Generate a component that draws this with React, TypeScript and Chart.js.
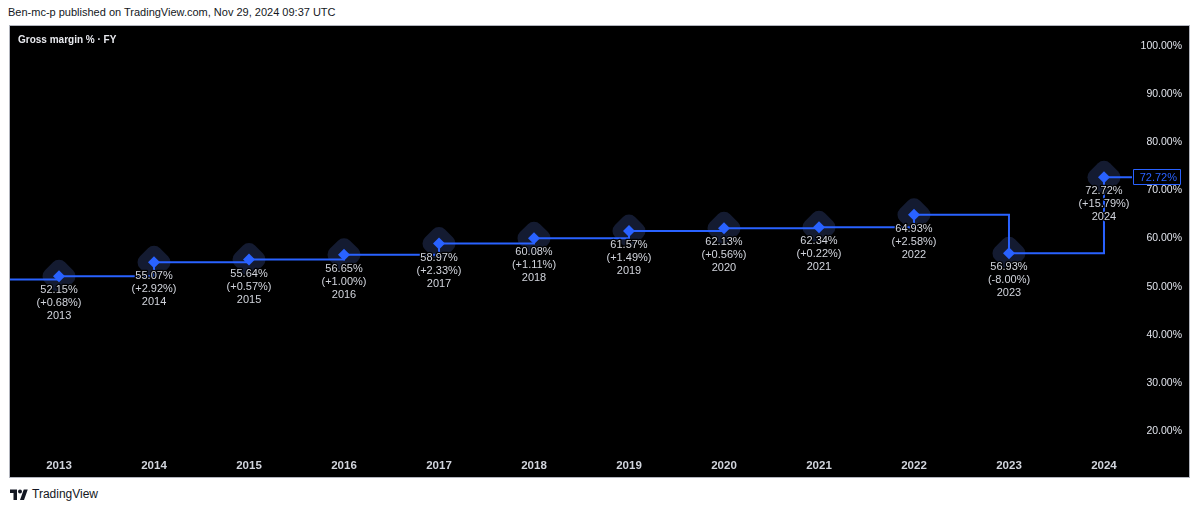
import React, { useEffect, useRef } from 'react';
import { Chart, registerables } from 'chart.js';

Chart.register(...registerables);

const years = [2013, 2014, 2015, 2016, 2017, 2018, 2019, 2020, 2021, 2022, 2023, 2024];
const margins = [52.15, 55.07, 55.64, 56.65, 58.97, 60.08, 61.57, 62.13, 62.34, 64.93, 56.93, 72.72];
const changes = [0.68, 2.92, 0.57, 1.0, 2.33, 1.11, 1.49, 0.56, 0.22, 2.58, -8.0, 15.79];
const priorYear = 2012;
const priorMargin = 51.47;
const yTicks = [20, 30, 40, 50, 60, 70, 80, 90, 100];

const FONT = '"Liberation Sans", Arial, sans-serif';
const BLUE = '#2962ff';
const TEXT = '#d1d4dc';

const labelPlugin = {
  id: 'pointLabels',
  afterDatasetsDraw(chart: any) {
    const { ctx, scales, chartArea } = chart;
    const x = scales.x;
    const y = scales.y;
    ctx.save();
    ctx.font = `11px ${FONT}`;
    ctx.textAlign = 'center';
    ctx.textBaseline = 'middle';
    ctx.lineJoin = 'round';
    years.forEach((yr, i) => {
      const px = x.getPixelForValue(yr);
      const py = y.getPixelForValue(margins[i]);
      const c = changes[i];
      const lines = [
        `${margins[i].toFixed(2)}%`,
        `(${c >= 0 ? '+' : ''}${c.toFixed(2)}%)`,
        String(yr),
      ];
      lines.forEach((t, k) => {
        const ty = py + 14 + k * 13;
        ctx.strokeStyle = '#000';
        ctx.lineWidth = 2.5;
        ctx.strokeText(t, px, ty);
        ctx.fillStyle = TEXT;
        ctx.fillText(t, px, ty);
      });
    });
    const last = margins[margins.length - 1];
    const ly = Math.round(y.getPixelForValue(last));
    const bx = Math.round(chartArea.right) + 1;
    const bw = 48;
    const bh = 16;
    ctx.fillStyle = '#000';
    ctx.fillRect(bx, ly - bh / 2, bw, bh);
    ctx.strokeStyle = BLUE;
    ctx.lineWidth = 1;
    ctx.strokeRect(bx + 0.5, ly - bh / 2 + 0.5, bw - 1, bh - 1);
    ctx.fillStyle = BLUE;
    ctx.textAlign = 'right';
    ctx.font = `11px ${FONT}`;
    ctx.fillText(`${last.toFixed(2)}%`, bx + bw - 4, ly + 0.5);
    ctx.restore();
  },
};

const zeroPad = (s: any) => {
  s.paddingLeft = 0;
  s.paddingRight = 0;
  s.paddingTop = 0;
  s.paddingBottom = 0;
};

function ChartPanel() {
  const ref = useRef<HTMLCanvasElement | null>(null);
  useEffect(() => {
    if (!ref.current) return;
    const pts = years.map((yr, i) => ({ x: yr, y: margins[i] }));
    const linePts = [{ x: priorYear, y: priorMargin }, ...pts, { x: years[years.length - 1] + 1, y: margins[margins.length - 1] }];
    const chart = new Chart(ref.current, {
      type: 'line',
      data: {
        datasets: [
          {
            data: pts,
            showLine: false,
            pointStyle: 'rectRounded',
            pointRotation: 45,
            pointRadius: 16.5,
            pointBackgroundColor: '#141b31',
            pointBorderWidth: 0,
            order: 3,
          } as any,
          {
            data: linePts,
            stepped: 'before',
            borderColor: BLUE,
            borderWidth: 2,
            pointRadius: 0,
            fill: false,
            order: 2,
          } as any,
          {
            data: pts,
            showLine: false,
            pointStyle: 'rectRot',
            pointRadius: 6,
            pointBackgroundColor: BLUE,
            pointBorderWidth: 0,
            order: 1,
          } as any,
        ],
      },
      options: {
        responsive: false,
        animation: false,
        events: [],
        layout: { padding: { left: 0, top: 0, bottom: 0, right: 7 }, autoPadding: false },
        plugins: { legend: { display: false }, tooltip: { enabled: false } },
        scales: {
          x: {
            type: 'linear',
            min: 2012.484,
            max: 2024.295,
            grid: { display: false, drawTicks: false },
            border: { display: false },
            afterBuildTicks: (s: any) => {
              s.ticks = years.map((v) => ({ value: v }));
            },
            afterFit: (s: any) => {
              s.height = 25;
              zeroPad(s);
            },
            ticks: {
              autoSkip: false,
              maxRotation: 0,
              padding: 7,
              color: TEXT,
              font: { family: FONT, size: 11.5, weight: 'bold' },
              callback: (v: any) => String(v),
            },
          },
          y: {
            type: 'linear',
            position: 'right',
            min: 15.64,
            max: 104.16,
            grid: { display: false, drawTicks: false },
            border: { display: false },
            afterBuildTicks: (s: any) => {
              s.ticks = yTicks.map((v) => ({ value: v }));
            },
            afterFit: (s: any) => {
              s.width = 50;
              zeroPad(s);
            },
            ticks: {
              crossAlign: 'far',
              padding: 1,
              color: '#e0e3eb',
              font: { family: FONT, size: 10.5 },
              callback: (v: any) => `${Number(v).toFixed(2)}%`,
            },
          },
        },
      } as any,
      plugins: [labelPlugin],
    });
    return () => chart.destroy();
  }, []);
  return <canvas ref={ref} width={1179} height={451} style={{ display: 'block' }} />;
}

export default function App() {
  return (
    <div
      style={{
        position: 'fixed',
        left: 0,
        top: 0,
        width: 1200,
        height: 511,
        background: '#fff',
        fontFamily: FONT,
        overflow: 'hidden',
      }}
    >
      <div style={{ position: 'absolute', left: 8, top: 6, fontSize: 11, color: '#131722', whiteSpace: 'nowrap' }}>
        Ben-mc-p published on TradingView.com, Nov 29, 2024 09:37 UTC
      </div>
      <div
        style={{
          position: 'absolute',
          left: 9,
          top: 25,
          width: 1179,
          height: 451,
          border: '1px solid #b2b5be',
          background: '#000',
        }}
      >
        <ChartPanel />
        <div
          style={{
            position: 'absolute',
            left: 8,
            top: 8,
            fontSize: 10,
            fontWeight: 'bold',
            color: '#e8e9ee',
            whiteSpace: 'nowrap',
          }}
        >
          Gross margin % · FY
        </div>
      </div>
      <div style={{ position: 'absolute', left: 10, top: 487, display: 'flex', alignItems: 'center', gap: 4 }}>
        <svg width="18" height="13" viewBox="0 0 36 26" aria-hidden="true">
          <path d="M14 24H7V10H0V3h14v21zM28 24h-8l7.5-21h8L28 24z" fill="#131722" />
          <circle cx="20" cy="7" r="4" fill="#131722" />
        </svg>
        <span style={{ fontSize: 12, color: '#131722' }}>TradingView</span>
      </div>
    </div>
  );
}
